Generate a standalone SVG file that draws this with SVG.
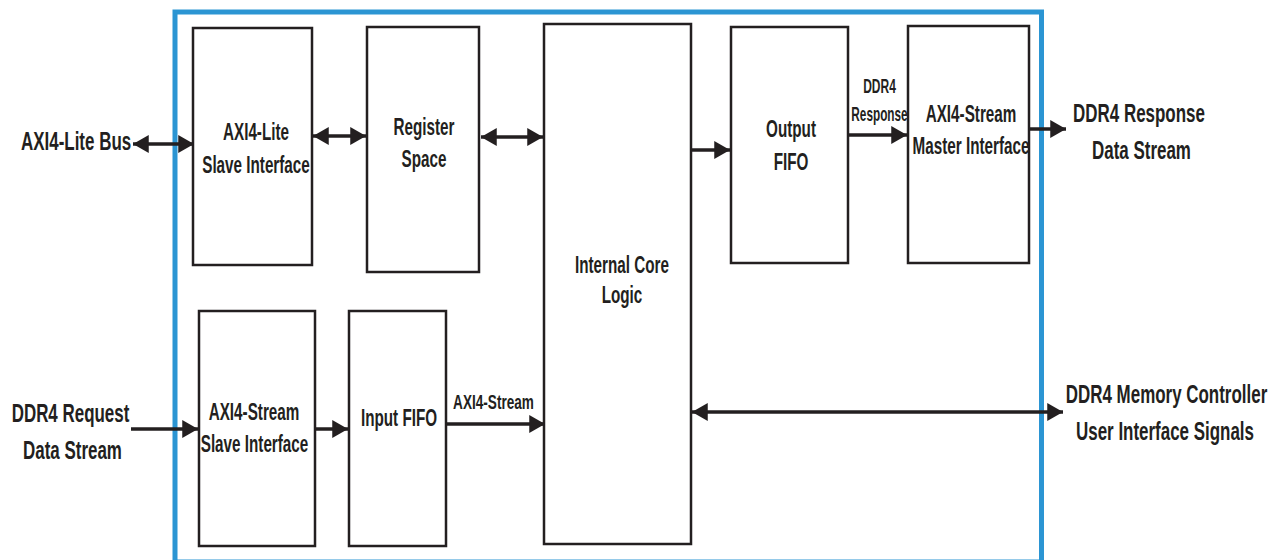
<svg xmlns="http://www.w3.org/2000/svg" width="1280" height="560" viewBox="0 0 1280 560">
<defs>
<style>
.box{fill:#fff;stroke:#231f20;stroke-width:2.5}
.frame{fill:none;stroke:#2b95d3;stroke-width:5}
.con{stroke:#231f20;stroke-width:3.5;fill:none}
text{font-family:"Liberation Sans",Arial,sans-serif;font-weight:bold;fill:#231f20}
.ext{font-size:26px}
.lbl{font-size:23px;text-anchor:middle}
.sm{font-size:20px;text-anchor:middle}
.mid{text-anchor:middle}
</style>
<marker id="ah" markerUnits="userSpaceOnUse" markerWidth="16" markerHeight="18" viewBox="0 0 14 16" refX="14" refY="8" orient="auto-start-reverse">
<path d="M0,0 L14,8 L0,16 z" fill="#231f20"/>
</marker>
</defs>
<rect width="1280" height="560" fill="#fff"/>
<rect class="frame" x="175" y="12" width="866.5" height="550"/>

<g id="axi4-lite-slave">
<rect class="box" x="193" y="28" width="119" height="237"/>
<text class="lbl" transform="translate(256,140) scale(0.663,1)">AXI4-Lite</text>
<text class="lbl" transform="translate(256,173) scale(0.663,1)">Slave Interface</text>
</g>
<g id="register-space">
<rect class="box" x="367" y="27" width="112" height="245"/>
<text class="lbl" transform="translate(424,135) scale(0.663,1)">Register</text>
<text class="lbl" transform="translate(424,167) scale(0.663,1)">Space</text>
</g>
<g id="internal-core">
<rect class="box" x="544" y="24" width="147" height="520"/>
<text class="lbl" transform="translate(622,273) scale(0.663,1)">Internal Core</text>
<text class="lbl" transform="translate(622,303) scale(0.663,1)">Logic</text>
</g>
<g id="output-fifo">
<rect class="box" x="731" y="27" width="117" height="236"/>
<text class="lbl" transform="translate(791,137) scale(0.663,1)">Output</text>
<text class="lbl" transform="translate(791,170) scale(0.663,1)">FIFO</text>
</g>
<g id="axi4-stream-master">
<rect class="box" x="908" y="26" width="121" height="237"/>
<text class="lbl" transform="translate(971,122) scale(0.663,1)">AXI4-Stream</text>
<text class="lbl" transform="translate(971,154) scale(0.663,1)">Master Interface</text>
</g>
<g id="axi4-stream-slave">
<rect class="box" x="199" y="311" width="116" height="235"/>
<text class="lbl" transform="translate(254,420) scale(0.663,1)">AXI4-Stream</text>
<text class="lbl" transform="translate(254.5,452) scale(0.663,1)">Slave Interface</text>
</g>
<g id="input-fifo">
<rect class="box" x="349" y="311" width="97" height="235"/>
<text class="lbl" transform="translate(399,426) scale(0.663,1)">Input FIFO</text>
</g>

<g id="ext-axi4-lite-bus">
<text class="ext" transform="translate(21,150) scale(0.652,1)">AXI4-Lite Bus</text>
</g>
<g id="ext-ddr4-request">
<text class="ext mid" transform="translate(70.5,422) scale(0.652,1)">DDR4 Request</text>
<text class="ext mid" transform="translate(72.5,459) scale(0.652,1)">Data Stream</text>
</g>
<g id="ext-ddr4-response">
<text class="ext mid" transform="translate(1139,122) scale(0.652,1)">DDR4 Response</text>
<text class="ext mid" transform="translate(1141.5,159) scale(0.652,1)">Data Stream</text>
</g>
<g id="ext-ddr4-mc">
<text class="ext mid" transform="translate(1166.5,403) scale(0.652,1)">DDR4 Memory Controller</text>
<text class="ext mid" transform="translate(1165,440) scale(0.652,1)">User Interface Signals</text>
</g>

<g id="connectors">
<line class="con" x1="133" y1="144" x2="194" y2="144" marker-start="url(#ah)" marker-end="url(#ah)"/>
<line class="con" x1="313" y1="136" x2="366" y2="136" marker-start="url(#ah)" marker-end="url(#ah)"/>
<line class="con" x1="481" y1="137" x2="543" y2="137" marker-start="url(#ah)" marker-end="url(#ah)"/>
<line class="con" x1="692" y1="150" x2="730" y2="150" marker-end="url(#ah)"/>
<line class="con" x1="848" y1="135" x2="907" y2="135" marker-end="url(#ah)"/>
<line class="con" x1="1030" y1="129" x2="1066" y2="129" marker-end="url(#ah)"/>
<line class="con" x1="131" y1="429" x2="198" y2="429" marker-end="url(#ah)"/>
<line class="con" x1="316" y1="429" x2="348" y2="429" marker-end="url(#ah)"/>
<line class="con" x1="446" y1="424" x2="545" y2="424" marker-end="url(#ah)"/>
<line class="con" x1="692" y1="412" x2="1063" y2="412" marker-start="url(#ah)" marker-end="url(#ah)"/>
<text class="sm" transform="translate(879.5,93) scale(0.6,1)">DDR4</text>
<text class="sm" transform="translate(879.5,121) scale(0.59,1)">Response</text>
<text class="sm" transform="translate(493.5,409) scale(0.68,1)">AXI4-Stream</text>
</g>
</svg>
